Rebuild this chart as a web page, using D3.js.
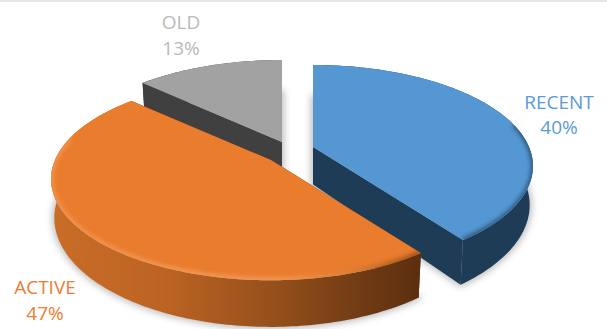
<!DOCTYPE html>
<html>
<head>
<meta charset="utf-8">
<script src="https://cdn.jsdelivr.net/npm/d3@7/dist/d3.min.js"></script>
<style>
html,body{margin:0;padding:0;background:#fff;overflow:hidden}
svg{display:block}
text{font-family:"Open Sans",sans-serif;font-size:19px;text-anchor:middle}
</style>
</head>
<body>
<svg id="chart" width="607" height="329"></svg>
<script>
// Share of items by status
const categories = ["RECENT", "ACTIVE", "OLD"];
const shares = [40, 47, 13];
const labelText = ["40%", "47%", "13%"];

const topColors = ["#5597d2", "#ea7c2d", "#a1a2a1"];
const wallColors = ["#1f3c57", "url(#activeWall)", "#404040"];
const labelColors = ["#5b9bd5", "#ed7d31", "#b9b9bd"];
// Each slice is pulled out of the pie, so each has its own tip position.
const tips = [[313, 147], [271, 160], [282, 142]];
const labelPos = [[559, 102, 127], [45, 287, 313], [181, 22, 48]];
const drawOrder = [2, 0, 1];

const rx = 216, ry = 97.5, persp = -0.189, depth = 37.5, baseShrink = 0.985;

// Perspective view of the tilted disc; t is the clockwise angle from the far side.
function project(t, r, tip, lower) {
  const u = r * Math.sin(t), v = -r * Math.cos(t), den = 1 + persp * v;
  const x = rx * u / den, y = ry * v / den;
  return lower
    ? [tip[0] + x * baseShrink, tip[1] + y * 0.97 + depth / Math.pow(den, 1.4)]
    : [tip[0] + x, tip[1] + y];
}

const svg = d3.select("#chart");
const defs = svg.append("defs");
const line = d3.line();

function hGradient(id, x1, x2, stops) {
  const grad = defs.append("linearGradient").attr("id", id)
    .attr("gradientUnits", "userSpaceOnUse")
    .attr("x1", x1).attr("x2", x2).attr("y1", 0).attr("y2", 0);
  stops.forEach(([o, c]) => grad.append("stop").attr("offset", o).attr("stop-color", c));
}
hGradient("activeWall", 52, 420, [[0, "#c96d27"], [0.3, "#bd6423"], [0.6, "#96501b"], [0.85, "#6f3a13"], [1, "#5c2f10"]]);
hGradient("activeRim", 52, 420, [[0, "#f39a5a"], [0.6, "#f6a468"], [0.8, "#d8843f"], [1, "#7a4016"]]);

function blurFilter(id, sd) {
  defs.append("filter").attr("id", id)
    .attr("x", "-20%").attr("y", "-20%").attr("width", "140%").attr("height", "140%")
    .append("feGaussianBlur").attr("stdDeviation", sd);
}
blurFilter("soft", 3.5);
blurFilter("rim", 2);

// Thin band along the top edge of the page
svg.append("rect").attr("x", 0).attr("y", 0).attr("width", 607).attr("height", 2).attr("fill", "#e7e7e7");

const slices = d3.pie().sort(null).value(d => d)(shares);

function arcAngles(s) {
  const n = Math.ceil((s.endAngle - s.startAngle) * 60);
  return d3.range(n + 1).map(i => s.startAngle + (s.endAngle - s.startAngle) * i / n);
}
const facePoints = (s, tip, lower) =>
  [project(0, 0, tip, lower), ...arcAngles(s).map(t => project(t, 1, tip, lower))];

// Soft ground shadow under every slice
drawOrder.forEach(i => {
  svg.append("path")
    .attr("d", line(facePoints(slices[i], tips[i], true)) + "Z")
    .attr("fill", "#555").attr("stroke", "#555").attr("stroke-width", 4)
    .attr("opacity", 0.4).attr("filter", "url(#soft)");
});

drawOrder.forEach(i => {
  const s = slices[i], tip = tips[i], g = svg.append("g");
  const angles = arcAngles(s);

  // Straight cut walls
  [s.startAngle, s.endAngle].forEach(t => {
    g.append("path")
      .attr("d", line([project(0, 0, tip, false), project(t, 1, tip, false),
                       project(t, 1, tip, true), project(0, 0, tip, true)]) + "Z")
      .attr("fill", i === 1 ? "#5c2f10" : wallColors[i]);
  });
  // Curved outer wall
  g.append("path")
    .attr("d", line([...angles.map(t => project(t, 1, tip, false)),
                     ...angles.slice().reverse().map(t => project(t, 1, tip, true))]) + "Z")
    .attr("fill", wallColors[i]);

  // Top surface
  const topD = line(facePoints(s, tip, false)) + "Z";
  g.append("path").attr("d", topD).attr("fill", topColors[i]);

  // Bevel along the near part of the rim
  const clipId = "top" + i;
  defs.append("clipPath").attr("id", clipId).append("path").attr("d", topD);
  const near = angles.filter(t => Math.cos(t) < 0.25);
  if (near.length && i !== 2) {
    const bevel = g.append("g").attr("clip-path", `url(#${clipId})`);
    bevel.append("path").attr("d", line(near.map(t => project(t, 1, tip, false))))
      .attr("fill", "none")
      .attr("stroke", i === 0 ? "#1f3c57" : "url(#activeRim)")
      .attr("stroke-width", i === 0 ? 4 : 6)
      .attr("opacity", i === 0 ? 0.8 : 0.75)
      .attr("filter", "url(#rim)");
  }
});

// Category name with its share underneath
categories.forEach((c, i) => {
  const [x, y1, y2] = labelPos[i];
  svg.append("text").attr("x", x).attr("y", y1 + 7).attr("fill", labelColors[i]).text(c);
  svg.append("text").attr("x", x).attr("y", y2 + 7).attr("fill", labelColors[i]).text(labelText[i]);
});
</script>
</body>
</html>
